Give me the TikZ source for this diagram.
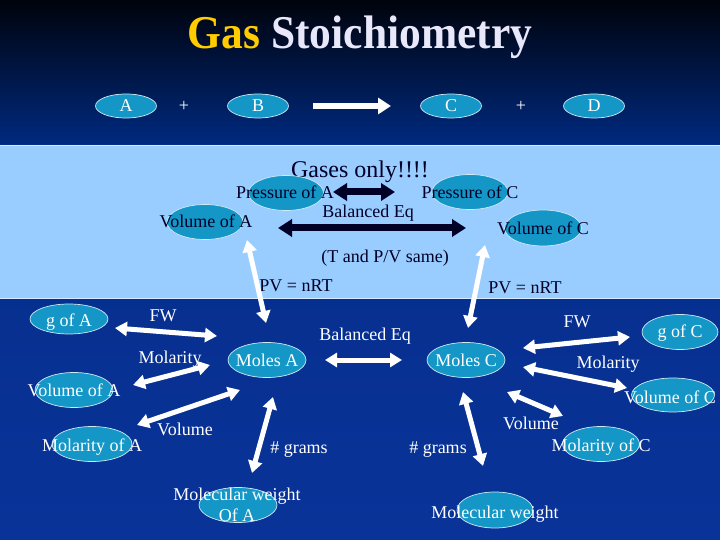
\documentclass[tikz,border=0pt]{standalone}
\usepackage{fontspec}
\setmainfont{Liberation Serif}
\usetikzlibrary{arrows.meta,shapes.geometric,calc}
\definecolor{bandblue}{HTML}{99CCFF}
\definecolor{ellfill}{HTML}{1496C6}
\definecolor{darknavy}{HTML}{000026}
\definecolor{gold}{HTML}{FFCC00}
\definecolor{titlew}{HTML}{E8E8FA}
\definecolor{bgtop}{HTML}{00030C}
\definecolor{bgmid}{HTML}{002A80}
\definecolor{bglow}{HTML}{0A3399}
\begin{document}
\begin{tikzpicture}[x=1pt,y=-1pt,
  ell/.style={ellipse, draw=white!80!ellfill, line width=0.7pt, fill=ellfill,
    inner sep=0pt, minimum width=77pt, minimum height=35pt},
  smallell/.style={ell, minimum width=61pt, minimum height=24pt,
    font=\fontsize{18}{20}\selectfont, text=white, text height=12pt, text depth=0pt},
  lab/.style={font=\fontsize{18}{20}\selectfont, inner sep=0pt, text height=12pt, text depth=0pt},
  dlab/.style={lab, text=darknavy},
  wlab/.style={lab, text=white},
  warr/.style={draw=white, line width=5pt,
    {Triangle[width=14pt,length=12pt]}-{Triangle[width=14pt,length=12pt]}},
  darr/.style={draw=darknavy, line width=7pt,
    {Triangle[width=17pt,length=14pt]}-{Triangle[width=17pt,length=14pt]}},
  toparr/.style={draw=white, line width=6pt, -{Triangle[width=16pt,length=13pt]}}
]
\useasboundingbox (0,0) rectangle (720,540);
% background
\shade[top color=bgtop, bottom color=bgmid] (0,0) rectangle (720,146);
\shade[top color=bgmid!60!bglow, bottom color=bglow] (0,145) rectangle (720,540);
% band
\fill[bandblue] (0,145) rectangle (720,298);
\draw[white!60!bandblue, line width=0.8pt] (0,145) -- (720,145);
\draw[white!60!bandblue, line width=0.8pt] (0,298) -- (720,298);

% title
\node[anchor=base, inner sep=0pt, font=\fontsize{47}{50}\selectfont\bfseries] (title) at (360,49)
  {\scalebox{0.925}[1]{\color{gold}Gas \color{titlew}Stoichiometry}};

% top reaction row
\node[smallell] (rA) at (126,106) {A};
\node[wlab] (plus1) at (184,106) {+};
\node[smallell] (rB) at (258,106) {B};
\node[smallell] (rC) at (451,106) {C};
\node[wlab] (plus2) at (521,106) {+};
\node[smallell] (rD) at (594,106) {D};
\coordinate (ra1) at (313,106);
\coordinate (ra2) at (391,106);
\draw[toparr] (ra1) -- (ra2);

% band content
\node[inner sep=0pt, text=darknavy, font=\fontsize{24}{26}\selectfont, text height=16pt, text depth=0pt] (gases) at (360,170) {Gases only!!!!};
\node[ell, minimum width=75pt] (epA) at (286,193) {};
\node[ell, minimum width=76pt] (evA) at (205,222) {};
\node[ell, minimum width=76pt] (epC) at (470,192) {};
\node[ell, minimum width=77pt, minimum height=36pt] (evC) at (543,228) {};
\node[dlab] (tpA) at (285,193) {Pressure of A};
\node[dlab] (tvA) at (206,222) {Volume of A};
\node[dlab] (tpC) at (470,193) {Pressure of C};
\node[dlab] (tvC) at (543,229) {Volume of C};
\node[dlab] (bal1) at (368,212) {Balanced Eq};
\node[dlab] (same) at (385,256) {(T and P/V same)};
\node[dlab] (pvL) at (296,285) {PV = nRT};
\node[dlab] (pvR) at (525,287) {PV = nRT};
\coordinate (d1a) at (333,192);
\coordinate (d1b) at (395,192);
\coordinate (d2a) at (278,228);
\coordinate (d2b) at (466,228);
\draw[darr] (d1a) -- (d1b);
\draw[darr] (d2a) -- (d2b);

% lower ellipses
\node[ell, minimum width=78pt, minimum height=30pt] (egA) at (69,319) {};
\node[ell, minimum width=78pt] (emA) at (267,360) {};
\node[ell, minimum width=78pt] (evA2) at (74,390) {};
\node[ell, minimum width=80pt] (emoA) at (92,444) {};
\node[ell, minimum width=78pt] (emwA) at (238,505) {};
\node[ell, minimum width=78pt] (emC) at (466,360) {};
\node[ell, minimum width=76pt] (egC) at (680,332) {};
\node[ell, minimum width=83pt, minimum height=34pt] (evC2) at (673,395) {};
\node[ell, minimum width=77pt] (emoC) at (601,444) {};
\node[ell, minimum width=76pt, minimum height=36pt] (emwC) at (495,510) {};

% white arrows
\coordinate (vAup) at (247,240);
\coordinate (mAtop) at (266,323);
\coordinate (vCup) at (485,245);
\coordinate (mCtop) at (468,328);
\draw[warr] (vAup) -- (mAtop);
\draw[warr] (vCup) -- (mCtop);
\coordinate (fwA1) at (115,328);
\coordinate (fwA2) at (217,336);
\draw[warr] (fwA1) -- (fwA2);
\coordinate (moA1) at (133,385);
\coordinate (moA2) at (210,365);
\draw[warr] (moA1) -- (moA2);
\coordinate (voA1) at (137,425);
\coordinate (voA2) at (240,390);
\draw[warr] (voA1) -- (voA2);
\coordinate (grA1) at (273,397);
\coordinate (grA2) at (252,473);
\draw[warr] (grA1) -- (grA2);
\coordinate (mm1) at (325,360);
\coordinate (mm2) at (402,360);
\draw[warr] (mm1) -- (mm2);
\coordinate (fwC1) at (523,348);
\coordinate (fwC2) at (630,337);
\draw[warr] (fwC1) -- (fwC2);
\coordinate (moC1) at (523,367);
\coordinate (moC2) at (627,388);
\draw[warr] (moC1) -- (moC2);
\coordinate (voC1) at (507,392);
\coordinate (voC2) at (563,416);
\draw[warr] (voC1) -- (voC2);
\coordinate (grC1) at (463,392);
\coordinate (grC2) at (483,466);
\draw[warr] (grC1) -- (grC2);

% lower texts
\node[wlab] (tgA) at (69,320) {g of A};
\node[wlab] (fwA) at (163,315) {FW};
\node[wlab] (molA) at (170,357) {Molarity};
\node[wlab] (tmA) at (267,360) {Moles A};
\node[wlab] (tvA2) at (74,390) {Volume of A};
\node[wlab] (volA) at (185,429) {Volume};
\node[wlab] (tmoA) at (92,445) {Molarity of A};
\node[wlab] (grA) at (299,447) {\# grams};
\node[wlab] (tmwA1) at (237,494) {Molecular weight};
\node[wlab] (tmwA2) at (237,515) {Of A};
\node[wlab] (bal2) at (365,334) {Balanced Eq};
\node[wlab] (tmC) at (466,360) {Moles C};
\node[wlab] (fwC) at (577,321) {FW};
\node[wlab] (tgC) at (680,331) {g of C};
\node[wlab] (molC) at (608,362) {Molarity};
\node[wlab] (tvC2) at (670,397) {Volume of C};
\node[wlab] (volC) at (531,423) {Volume};
\node[wlab] (tmoC) at (601,445) {Molarity of C};
\node[wlab] (grC) at (438,447) {\# grams};
\node[wlab] (tmwC) at (495,512) {Molecular weight};
\end{tikzpicture}
\end{document}
